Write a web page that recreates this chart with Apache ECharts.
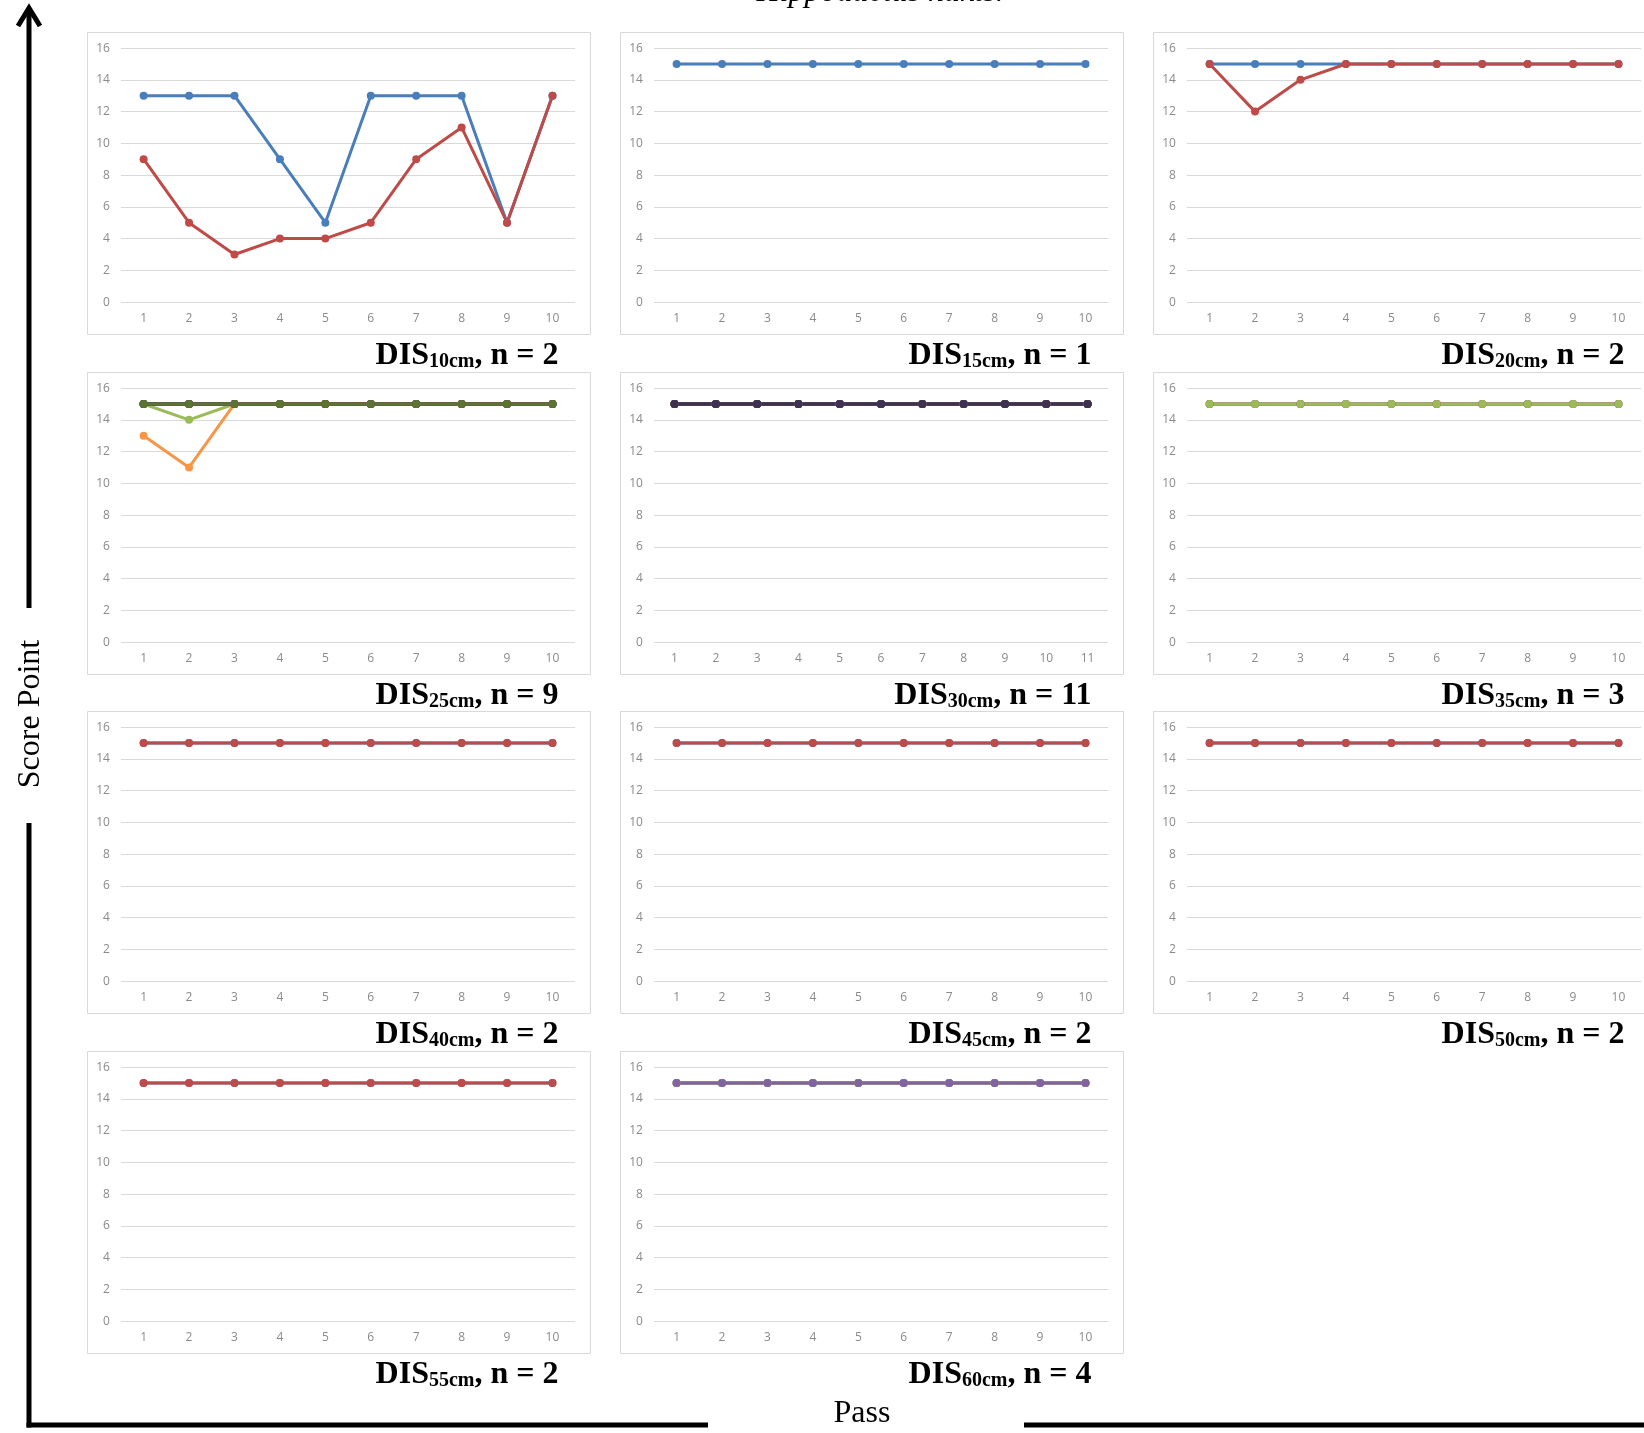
<!DOCTYPE html>
<html>
<head>
<meta charset="utf-8">
<title>Score Point by Pass</title>
<script src="https://cdn.jsdelivr.net/npm/echarts@6/dist/echarts.min.js"></script>
<style>
  html, body { margin: 0; padding: 0; background: #ffffff; }
  #chart { width: 1644px; height: 1433px; }
</style>
</head>
<body>
<div id="chart"></div>
<script>
// Pass numbers on the x axes
const passes10 = ['1', '2', '3', '4', '5', '6', '7', '8', '9', '10'];
const passes11 = ['1', '2', '3', '4', '5', '6', '7', '8', '9', '10', '11'];

// Score axis ticks
const scoreMin = 0;
const scoreMax = 16;
const scoreStep = 2;

// Panel captions: distance and number of participants
const distances = ['10cm', '15cm', '20cm', '25cm', '30cm', '35cm', '40cm', '45cm', '50cm', '55cm', '60cm'];
const counts = [2, 1, 2, 9, 11, 3, 2, 2, 2, 2, 4];

// Scores per participant, one array per pass sequence
const dis10 = [
  [13, 13, 13, 9, 5, 13, 13, 13, 5, 13],
  [9, 5, 3, 4, 4, 5, 9, 11, 5, 13]
];
const dis15 = [
  [15, 15, 15, 15, 15, 15, 15, 15, 15, 15]
];
const dis20 = [
  [15, 15, 15, 15, 15, 15, 15, 15, 15, 15],
  [15, 12, 14, 15, 15, 15, 15, 15, 15, 15]
];
const dis25 = [
  [15, 15, 15, 15, 15, 15, 15, 15, 15, 15],
  [15, 15, 15, 15, 15, 15, 15, 15, 15, 15],
  [15, 14, 15, 15, 15, 15, 15, 15, 15, 15],
  [15, 15, 15, 15, 15, 15, 15, 15, 15, 15],
  [15, 15, 15, 15, 15, 15, 15, 15, 15, 15],
  [13, 11, 15, 15, 15, 15, 15, 15, 15, 15],
  [15, 15, 15, 15, 15, 15, 15, 15, 15, 15],
  [15, 15, 15, 15, 15, 15, 15, 15, 15, 15],
  [15, 15, 15, 15, 15, 15, 15, 15, 15, 15]
];
const dis30 = [
  [15, 15, 15, 15, 15, 15, 15, 15, 15, 15, 15],
  [15, 15, 15, 15, 15, 15, 15, 15, 15, 15, 15],
  [15, 15, 15, 15, 15, 15, 15, 15, 15, 15, 15],
  [15, 15, 15, 15, 15, 15, 15, 15, 15, 15, 15],
  [15, 15, 15, 15, 15, 15, 15, 15, 15, 15, 15],
  [15, 15, 15, 15, 15, 15, 15, 15, 15, 15, 15],
  [15, 15, 15, 15, 15, 15, 15, 15, 15, 15, 15],
  [15, 15, 15, 15, 15, 15, 15, 15, 15, 15, 15],
  [15, 15, 15, 15, 15, 15, 15, 15, 15, 15, 15],
  [15, 15, 15, 15, 15, 15, 15, 15, 15, 15, 15],
  [15, 15, 15, 15, 15, 15, 15, 15, 15, 15, 15]
];
const dis35 = [
  [15, 15, 15, 15, 15, 15, 15, 15, 15, 15],
  [15, 15, 15, 15, 15, 15, 15, 15, 15, 15],
  [15, 15, 15, 15, 15, 15, 15, 15, 15, 15]
];
const dis40 = [
  [15, 15, 15, 15, 15, 15, 15, 15, 15, 15],
  [15, 15, 15, 15, 15, 15, 15, 15, 15, 15]
];
const dis45 = [
  [15, 15, 15, 15, 15, 15, 15, 15, 15, 15],
  [15, 15, 15, 15, 15, 15, 15, 15, 15, 15]
];
const dis50 = [
  [15, 15, 15, 15, 15, 15, 15, 15, 15, 15],
  [15, 15, 15, 15, 15, 15, 15, 15, 15, 15]
];
const dis55 = [
  [15, 15, 15, 15, 15, 15, 15, 15, 15, 15],
  [15, 15, 15, 15, 15, 15, 15, 15, 15, 15]
];
const dis60 = [
  [15, 15, 15, 15, 15, 15, 15, 15, 15, 15],
  [15, 15, 15, 15, 15, 15, 15, 15, 15, 15],
  [15, 15, 15, 15, 15, 15, 15, 15, 15, 15],
  [15, 15, 15, 15, 15, 15, 15, 15, 15, 15]
];

const panelData = [dis10, dis15, dis20, dis25, dis30, dis35, dis40, dis45, dis50, dis55, dis60];
const panelPasses = [passes10, passes10, passes10, passes10, passes11, passes10,
                     passes10, passes10, passes10, passes10, passes10];

// Office-style series palette (later series are drawn on top)
const palette = ['#4a7ebb', '#be4b48', '#9bbb59', '#8064a2', '#4bacc6', '#f79646',
                 '#2c4d75', '#772c2a', '#5a7531', '#4d3b62', '#3f3151'];

// Panel layout
const colLeft = [87.5, 620.5, 1153.5];
const rowTop = [32.5, 372.5, 711.5, 1051.5];
const panelW = 503;
const panelH = 302;
const plotDx = 33.4, plotDy = 15.6, plotW = 454.3, plotH = 254;

const serif = '"Liberation Serif", "Times New Roman", serif';

const grids = [], xAxes = [], yAxes = [], series = [], graphics = [];

panelData.forEach(function (rows, i) {
  const col = i % 3, row = Math.floor(i / 3);
  const px = colLeft[col], py = rowTop[row];

  graphics.push({
    type: 'rect', z: -10,
    shape: { x: px, y: py, width: panelW, height: panelH },
    style: { fill: '#ffffff', stroke: '#d9d9d9', lineWidth: 1 }
  });

  graphics.push({
    type: 'text',
    x: px + panelW - 32,
    y: py + panelH + 19,
    style: {
      text: '{m|DIS}{s|' + distances[i] + '}{m|, n = ' + counts[i] + '}',
      align: 'right',
      verticalAlign: 'middle',
      rich: {
        m: { fontFamily: serif, fontWeight: 'bold', fontSize: 32, lineHeight: 36,
             verticalAlign: 'bottom', fill: '#000' },
        s: { fontFamily: serif, fontWeight: 'bold', fontSize: 20, lineHeight: 24,
             verticalAlign: 'bottom', fill: '#000' }
      }
    }
  });

  grids.push({ left: px + plotDx, top: py + plotDy, width: plotW, height: plotH });

  xAxes.push({
    type: 'category', gridIndex: i, data: panelPasses[i], boundaryGap: true,
    axisLine: { show: false }, axisTick: { show: false },
    axisLabel: { color: '#8a8a8a', fontSize: 12, margin: 10, fontFamily: 'Open Sans, sans-serif' },
    splitLine: { show: false }
  });

  yAxes.push({
    type: 'value', gridIndex: i, min: scoreMin, max: scoreMax, interval: scoreStep,
    axisLine: { show: false }, axisTick: { show: false },
    axisLabel: { color: '#8a8a8a', fontSize: 12, margin: 11, fontFamily: 'Open Sans, sans-serif' },
    splitLine: { show: true, lineStyle: { color: '#d9d9d9', width: 1 } }
  });

  rows.forEach(function (vals, k) {
    const color = palette[rows.length === 11 ? k : Math.min(k, 8)];
    series.push({
      type: 'line', xAxisIndex: i, yAxisIndex: i, data: vals,
      symbol: 'circle', symbolSize: 8, showSymbol: true,
      lineStyle: { width: 3, color: color },
      itemStyle: { color: color },
      emphasis: { disabled: true }
    });
  });
});

// Overall axes: arrowed score axis on the left, pass axis along the bottom
const black = '#000000';
graphics.push(
  { type: 'line', shape: { x1: 29, y1: 9, x2: 29, y2: 608 }, style: { stroke: black, lineWidth: 5 } },
  { type: 'polyline', shape: { points: [[18, 26], [29, 8], [40, 26]] },
    style: { stroke: black, lineWidth: 5, fill: null, lineJoin: 'miter' } },
  { type: 'line', shape: { x1: 29, y1: 823, x2: 29, y2: 1427.5 }, style: { stroke: black, lineWidth: 5 } },
  { type: 'line', shape: { x1: 26.5, y1: 1425, x2: 708, y2: 1425 }, style: { stroke: black, lineWidth: 5 } },
  { type: 'line', shape: { x1: 1024, y1: 1425, x2: 1644, y2: 1425 }, style: { stroke: black, lineWidth: 5 } },
  { type: 'text', x: 31, y: 714, rotation: Math.PI / 2,
    style: { text: 'Score Point', font: '32px ' + serif, fill: black, align: 'center', verticalAlign: 'middle' } },
  { type: 'text', x: 862, y: 1414,
    style: { text: 'Pass', font: '32px ' + serif, fill: black, align: 'center', verticalAlign: 'middle' } },
  { type: 'text', x: 880, y: 9,
    style: { text: 'Hippodactus nakts.', font: 'italic 32px ' + serif, fill: black, align: 'center', verticalAlign: 'bottom' } }
);

const chart = echarts.init(document.getElementById('chart'), null, { renderer: 'canvas' });
chart.setOption({
  animation: false,
  backgroundColor: '#ffffff',
  grid: grids,
  xAxis: xAxes,
  yAxis: yAxes,
  series: series,
  graphic: graphics
});
</script>
</body>
</html>
